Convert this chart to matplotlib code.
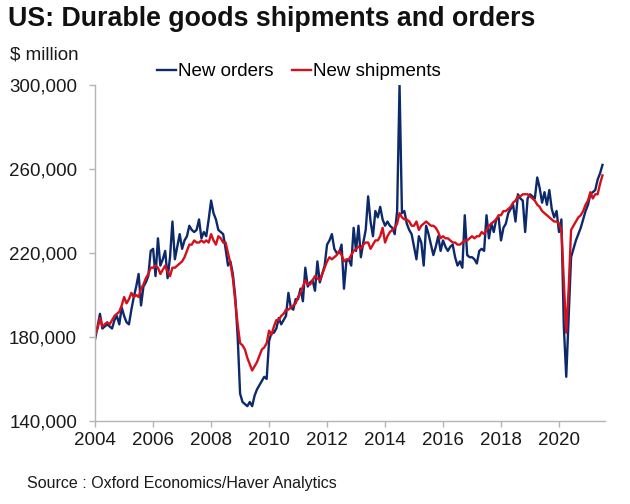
import numpy as np
import matplotlib
matplotlib.use("Agg")
import matplotlib.pyplot as plt

plt.rcParams['font.family'] = ['Liberation Sans', 'DejaVu Sans']

# monthly values, $ million (thousands), Jan 2004 - Jul 2021
orders_by_year = [
    [179, 185, 191, 184, 185, 186, 185, 184, 188, 190, 186, 194],  # 2004
    [190, 187, 186, 193, 199, 204, 210, 195, 204, 206, 209, 221],  # 2005
    [222, 209, 227, 214, 217, 221, 208, 218, 235, 217, 223, 229],  # 2006
    [222, 226, 228, 233, 231, 230, 231, 236, 227, 230, 228, 236],  # 2007
    [245, 239, 236, 231, 230, 229, 222, 214, 216, 210, 199, 180],  # 2008
    [153, 149, 148, 147, 149, 147, 152, 155, 157, 159, 161, 160],  # 2009
    [178, 182, 182, 184, 189, 186, 188, 190, 201, 194, 193, 198],  # 2010
    [198, 203, 197, 213, 204, 206, 207, 202, 216, 206, 210, 214],  # 2011
    [224, 226, 229, 222, 220, 220, 224, 203, 216, 217, 214, 232],  # 2012
    [221, 233, 218, 225, 231, 247, 235, 228, 240, 237, 242, 236],  # 2013
    [233, 235, 233, 232, 229, 240, 300, 239, 240, 234, 231, 229],  # 2014
    [223, 217, 228, 225, 214, 233, 229, 224, 219, 223, 228, 221],  # 2015
    [226, 223, 221, 223, 224, 218, 214, 216, 213, 238, 219, 218],  # 2016
    [218, 217, 215, 221, 222, 221, 238, 227, 234, 230, 236, 237],  # 2017
    [226, 232, 234, 239, 241, 243, 235, 248, 246, 245, 230, 246],  # 2018
    [248, 247, 246, 256, 251, 244, 249, 243, 250, 241, 237, 240],  # 2019
    [230, 236, 185, 161, 190, 218, 222, 226, 229, 232, 236, 240],  # 2020
    [243, 248, 249, 250, 255, 258, 262],                           # 2021
]

shipments_by_year = [
    [181, 184, 189, 185, 186, 187, 186, 188, 190, 191, 192, 195],  # 2004
    [199, 196, 198, 201, 199, 200, 199, 203, 205, 208, 210, 213],  # 2005
    [213, 214, 213, 210, 212, 214, 211, 209, 213, 213, 214, 215],  # 2006
    [216, 218, 221, 224, 224, 226, 225, 225, 226, 225, 226, 225],  # 2007
    [229, 226, 224, 228, 227, 225, 225, 220, 215, 208, 197, 186],  # 2008
    [177, 176, 174, 170, 167, 164, 166, 168, 171, 174, 175, 177],  # 2009
    [183, 181, 185, 188, 188, 190, 191, 193, 193, 194, 195, 196],  # 2010
    [199, 201, 204, 207, 205, 205, 207, 209, 208, 207, 210, 213],  # 2011
    [216, 218, 217, 218, 219, 221, 219, 216, 217, 217, 219, 221],  # 2012
    [222, 223, 222, 224, 225, 225, 222, 224, 226, 226, 228, 232],  # 2013
    [225, 228, 230, 231, 232, 234, 239, 237, 236, 236, 235, 233],  # 2014
    [233, 235, 231, 233, 234, 235, 234, 233, 233, 232, 230, 227],  # 2015
    [228, 227, 227, 226, 225, 225, 224, 224, 225, 226, 226, 227],  # 2016
    [228, 227, 228, 228, 230, 229, 231, 233, 234, 235, 236, 238],  # 2017
    [238, 240, 240, 241, 242, 244, 245, 247, 247, 248, 248, 248],  # 2018
    [247, 246, 245, 243, 242, 240, 239, 238, 237, 236, 235, 235],  # 2019
    [234, 231, 206, 182, 203, 231, 233, 235, 237, 238, 240, 243],  # 2020
    [245, 249, 246, 248, 248, 253, 257],                           # 2021
]

orders = np.concatenate(orders_by_year) * 1000
shipments = np.concatenate(shipments_by_year) * 1000
t = 2004 + np.arange(len(orders)) / 12.0

year_ticks = list(range(2004, 2021, 2))
y_ticks = [140000, 180000, 220000, 260000, 300000]

fig = plt.figure(figsize=(6.3, 5.04), dpi=100)
ax = fig.add_axes([0.151, 0.165, 0.809, 0.666])

ax.plot(t, orders, color='#0c2a6b', lw=1.7, label='New orders')
ax.plot(t, shipments, color='#d4101c', lw=1.7, label='New shipments')

ax.set_xlim(2004, 2021.58)
ax.set_ylim(140000, 300000)
ax.set_xticks(year_ticks)
ax.set_yticks(y_ticks)
ax.set_yticklabels([f'{v:,}' for v in y_ticks])

for s in ['top', 'right']:
    ax.spines[s].set_visible(False)
for s in ['left', 'bottom']:
    ax.spines[s].set_color('#b4b4b4')
    ax.spines[s].set_linewidth(1.0)
ax.tick_params(colors='#b4b4b4', labelcolor='#1a1a1a', labelsize=13.5,
               length=4, width=1.0, direction='out')
ax.tick_params(axis='x', pad=4)
ax.tick_params(axis='y', pad=9)

fig.text(0.013, 0.963, 'US: Durable goods shipments and orders',
         fontsize=19.3, fontweight='bold', color='#111111', va='center')
fig.text(0.016, 0.891, '$ million', fontsize=13.5, color='#1a1a1a', va='center')
fig.text(0.043, 0.041, 'Source : Oxford Economics/Haver Analytics',
         fontsize=11.5, color='#1a1a1a', va='center')

ax.legend(loc='center', bbox_to_anchor=(0.40, 1.04), ncol=2, frameon=False,
          fontsize=13.5, handlelength=1.0, handletextpad=0.1,
          columnspacing=1.0, borderaxespad=0)

fig.savefig('out.png', dpi=100)
